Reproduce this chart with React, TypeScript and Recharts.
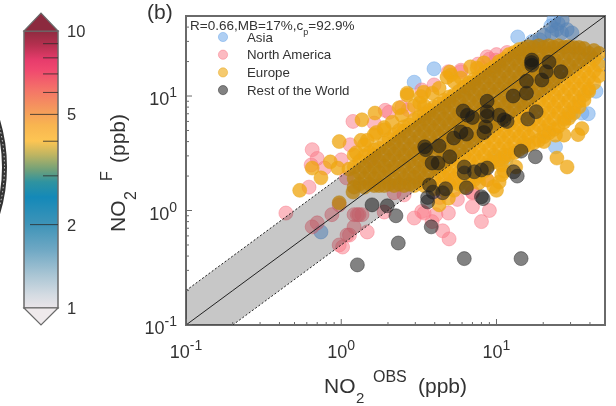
import React from "react";
import { ComposedChart, Area, Line, Scatter, XAxis, YAxis, Legend, ReferenceArea } from "recharts";

const FONT = "'Liberation Sans', Arial, sans-serif";
const TEXT = "#333";
const FRAME = "#6a6a6a";
const PLOT = { left: 186, right: 605, top: 16, bottom: 325 };

const majorTicks = [0.1, 1, 10];
const minorTicks = [0.2, 0.3, 0.4, 0.5, 0.6, 0.7, 0.8, 0.9, 2, 3, 4, 5, 6, 7, 8, 9, 20, 30, 40];
const allTicks = [...majorTicks, ...minorTicks].sort((a, b) => a - b);
const exponentLabel: Record<number, string> = { 0.1: "-1", 1: "0", 10: "1" };

const cbLabels = [1, 2, 5, 10];
const cbTicks = [1, 2, 3, 4, 5, 6, 7, 8, 9, 10];
const cbStops: [number, string][] = [
  [0, "#8e2c40"], [0.05, "#b5304f"], [0.105, "#e73c6c"], [0.14, "#f0486f"], [0.213, "#f47468"],
  [0.285, "#f59a5c"], [0.34, "#f8b550"], [0.397, "#fdc553"], [0.448, "#bdb462"], [0.502, "#6fa07a"],
  [0.545, "#2f93a0"], [0.6, "#1489b8"], [0.7, "#3f94b8"], [0.79, "#6fa8c4"], [0.88, "#a9c5d4"],
  [0.953, "#d4dbe2"], [1, "#eae5e9"],
];

// factor-of-two band and 1:1 line
const bandX = [0.1, 0.2, 25, 50];
const bandLo = [0.1, 0.1, 12.5, 25];
const bandHi = [0.2, 0.4, 50, 50];
const lineHi = [0.2, 0.4, 50, null];
const lineLo = [null, 0.1, 12.5, 25];
const lineMid = [0.1, 0.2, 25, 50];
const bandData = bandX.map((x, i) => ({
  x, range: [bandLo[i], bandHi[i]], hi: lineHi[i], lo: lineLo[i], mid: lineMid[i],
}));

const asia: [number, number][] = [
  [0.74, 0.65], [3.96, 17.3], [2.95, 13.2], [13.7, 32.8], [23.4, 46], [25, 43], [22.4, 41], [26.5, 46],
  [20.2, 34], [22.7, 35.6], [26.3, 35.6], [30.6, 35.6], [28.5, 38], [24.4, 38], [41, 21.6], [45.7, 19.8],
  [43.7, 11], [35.5, 7.1], [39, 7], [30, 6.8], [24, 3.6], [9.9, 2.95], [11.5, 2.7], [17, 30], [19, 31],
];

const northAmerica: [number, number][] = [
  [4.9, 0.95], [2.95, 0.86], [3.42, 0.95], [3.3, 0.98], [4.07, 0.92], [3.85, 0.8], [4.5, 0.665], [4.95, 0.565],
  [7, 1.08], [9, 1.0], [8, 0.8], [7, 1.43], [1.47, 0.65], [1.3, 0.92], [1.21, 0.92], [1.21, 0.72],
  [1.09, 0.61], [1.02, 0.48], [0.97, 0.5], [0.44, 0.95], [0.65, 0.72], [0.7, 0.78], [0.87, 0.92], [0.97, 1.12],
  [1.27, 0.92], [1.36, 0.92], [1.13, 0.61], [0.62, 1.6], [1.19, 6], [1.92, 7.5], [1.63, 5.8], [1.14, 3.75],
  [0.65, 3.4], [0.7, 2.85], [0.64, 2.5], [0.78, 2.35], [1, 2.77], [1.08, 1.93], [1.58, 2.85], [2.19, 1.43],
  [2.54, 1.37], [1.89, 0.97], [5.9, 16.3], [4.9, 16.3], [3.96, 12.5], [3.3, 11.3], [8.7, 22], [9.9, 20.6],
  [8, 17.6], [11.7, 24], [9, 21], [2.7, 7.6], [2.46, 8], [2.03, 7.2], [5.9, 16.8], [5.1, 1.85], [7, 1.45],
  [8.7, 1.85], [10, 23], [7.6, 19], [4.3, 1.3], [5.6, 1.25],
];

const europeOutliers: [number, number][] = [
  [0.54, 1.5], [0.97, 1.17], [0.97, 4.0], [0.65, 2.35], [0.74, 1.93], [0.85, 2.66], [0.95, 2.35], [1.19, 1.45],
  [1.36, 6.2], [1.65, 7.1], [1.34, 4.1], [1.47, 4.1], [1.25, 3.2], [2.36, 7.9], [2.66, 10.2], [2.13, 5.9],
  [1.89, 5.3], [1.68, 4.8], [6.8, 18], [5.1, 15.3], [3.4, 10.8], [3.2, 8.7], [2.66, 10.6], [5, 16.2],
  [24.5, 2.87], [28.5, 2.4], [35.5, 5.2], [33.5, 4.6], [27.2, 4.55], [24, 4.55], [20.2, 4], [10.8, 2.5],
  [13.3, 2.4], [10.8, 2.05], [10, 1.5], [7.7, 1.75], [8.7, 1.85], [10.4, 1.77], [4.9, 1.28], [4.27, 1.12],
  [11.2, 2.2], [9.6, 1.62],
  [2.46, 6.8], [3.27, 9.9], [3.85, 10.6], [4.8, 14.6], [2.95, 8.2], [3.42, 8.2], [4.27, 11.7], [5.33, 13.4],
  [5.9, 14.4], [1.89, 5.07], [1.63, 4.6], [1.41, 3.75], [1.21, 3.05], [7.5, 17.6], [8.3, 19.5], [1.12, 2.3],
];

const europeColumns: [number, number[]][] = [
  [1.21, [1.6, 1.9, 2.4]],
  [1.31, [1.7, 2.15, 2.7]],
  [1.41, [1.6, 1.9, 2.4, 3.0]],
  [1.52, [1.7, 2.15, 2.7, 3.2]],
  [1.63, [1.65, 1.9, 2.4, 3.05, 3.4]],
  [1.75, [1.65, 2.15, 2.7, 3.5]],
  [1.89, [1.65, 1.95, 2.45, 3.05, 3.9]],
  [2.03, [1.7, 2.2, 2.75, 3.45, 4.2]],
  [2.19, [1.65, 1.9, 2.4, 3.1, 3.9, 4.6]],
  [2.36, [1.7, 2.15, 2.7, 3.4, 4.4, 5]],
  [2.54, [1.65, 1.9, 2.45, 3.05, 3.85, 4.95, 5.4]],
  [2.74, [1.7, 2.1, 2.7, 3.45, 4.35, 5.6]],
  [2.95, [1.65, 1.95, 2.4, 3.1, 3.9, 5, 6.2]],
  [3.18, [1.75, 2.15, 2.75, 3.4, 4.4, 5.6, 6.6]],
  [3.42, [1.65, 1.9, 2.45, 3, 3.9, 4.95, 6.3, 7]],
  [3.68, [1.7, 2.2, 2.7, 3.5, 4.4, 5.55, 7.1, 7.5]],
  [3.96, [1.55, 1.9, 2.4, 3.05, 3.85, 5, 6.3, 8]],
  [4.27, [1.7, 2.15, 2.65, 3.45, 4.45, 5.6, 7, 8.5]],
  [4.6, [1.5, 1.95, 2.4, 3.1, 3.9, 4.9, 6.3, 8, 9.2]],
  [4.95, [1.7, 2.1, 2.7, 3.45, 4.4, 5.65, 7.1, 9, 9.8]],
  [5.33, [1.5, 1.9, 2.45, 3.05, 3.9, 4.95, 6.25, 8.1, 10.2]],
  [5.74, [1.7, 2.15, 2.7, 3.4, 4.4, 5.6, 7.05, 9, 11]],
  [6.18, [1.6, 1.9, 2.4, 3.05, 3.95, 5, 6.3, 8, 10.2, 12]],
  [6.65, [1.7, 2.15, 2.75, 3.45, 4.35, 5.6, 7.1, 9.1, 11.5, 13]],
  [7.17, [1.85, 2.4, 3.05, 3.9, 4.95, 6.3, 8, 10.2, 13, 14]],
  [7.7, [2.0, 2.15, 2.7, 3.45, 4.4, 5.6, 7.1, 9, 11.5, 14.6]],
  [8.3, [2.2, 2.4, 3.05, 3.9, 4.95, 6.35, 8, 10.2, 13, 16]],
  [8.95, [2.5, 2.7, 3.45, 4.4, 5.6, 7.1, 9, 11.5, 14.6, 17]],
  [9.64, [2.65, 3.05, 3.9, 5, 6.3, 8, 10.3, 13, 16.5, 18]],
  [10.4, [2.75, 3.45, 4.4, 5.6, 7.1, 9, 11.5, 14.6, 18.6, 20]],
  [11.2, [2.9, 3.05, 3.9, 4.95, 6.3, 8, 10.2, 13, 16.5, 21]],
  [12, [3.05, 3.45, 4.4, 5.6, 7.1, 9, 11.5, 14.6, 18.6, 23]],
  [13, [3.2, 3.9, 4.95, 6.3, 8, 10.2, 13, 16.5, 21, 24]],
  [14, [3.4, 4.4, 5.6, 7.1, 9, 11.5, 14.6, 18.6, 23.6, 25.5]],
  [15, [3.6, 3.9, 4.95, 6.3, 8, 10.2, 13, 16.5, 21, 26]],
  [16.1, [3.75, 4.4, 5.6, 7.1, 9, 11.5, 14.6, 18.6, 23.6, 27]],
  [17.4, [3.9, 4.95, 6.3, 8, 10.2, 13, 16.5, 21, 26.7]],
  [18.7, [4.1, 5.6, 7.1, 9, 11.5, 14.6, 18.6, 23.6, 27.5]],
  [20.2, [4.4, 4.95, 6.3, 8, 10.2, 13, 16.5, 21, 26.7]],
  [21.7, [4.75, 5.6, 7.1, 9, 11.5, 14.6, 18.6, 23.6, 27.5]],
  [23.4, [5.1, 6.3, 8, 10.2, 13, 16.5, 21, 26.7]],
  [25, [5.4, 7.1, 9, 11.5, 14.6, 18.6, 23.6, 27.5]],
  [27.2, [5.9, 6.3, 8, 10.2, 13, 16.5, 21, 26.7]],
  [29.2, [6.4, 7.1, 9, 11.5, 14.6, 18.6, 23.6, 27]],
  [31.5, [7.1, 8, 10.2, 13, 16.5, 21, 26.5]],
  [34, [8, 9, 11.5, 14.6, 18.6, 23.6, 26.5]],
  [36.6, [9.2, 10.2, 13, 16.5, 21, 26]],
  [39.3, [11, 11.5, 14.6, 18.6, 23.6]],
  [42.4, [13, 16.5, 21, 25]],
  [45.7, [15, 18.6, 23.6]],
];

const restOfWorld: [number, number][] = [
  [16.9, 20.6], [16.9, 18.6], [16.8, 19.6], [21.8, 19.8], [20.9, 16.3], [26, 16.3], [19.6, 13.8], [15.6, 13.5],
  [15.6, 10.6], [12.8, 10], [8.7, 9], [18, 7.3], [15.9, 6.3], [6.1, 7.4], [6.5, 6.8], [7, 6.5], [8.7, 7.3],
  [8.7, 6.7], [10.4, 6.8], [11.2, 6.2], [11.7, 6], [8.5, 5.4], [8.3, 4.8], [5.9, 4.85], [6.4, 4.65], [5.3, 4.3],
  [4.27, 3.67], [3.45, 3.6], [3.5, 3.4], [5, 2.95], [3.85, 2.6], [4.2, 2.6], [6.2, 2.4], [6.2, 2.13], [7.2, 2.18],
  [8, 2.26], [8.7, 2.35], [14.4, 3.3], [17.8, 2.95], [12.9, 2.18], [13.6, 2.0], [6.4, 1.58], [4.7, 1.55],
  [3.7, 1.67], [3.9, 1.45], [4.5, 1.43], [8, 1.32], [3.6, 1.3], [1.58, 1.12], [1.98, 1.1], [2.25, 0.9], [3.6, 1.19],
  [8.2, 1.27], [3.8, 0.72], [2.33, 0.52], [1.27, 0.335], [6.2, 0.38], [14.4, 0.38],
];

const toPoints = (rows: [number, number][]) => rows.map(([x, y]) => ({ x, y }));
const europe = [
  ...toPoints(europeOutliers),
  ...europeColumns.flatMap(([x, ys]) => ys.map((y) => ({ x, y }))),
];

const regions = [
  { name: "Asia", data: toPoints(asia), fill: "#6ea8ea", alpha: 0.55, edge: "#6ea8ea" },
  { name: "North America", data: toPoints(northAmerica), fill: "#f97a88", alpha: 0.52, edge: "#f97a88" },
  { name: "Europe", data: europe, fill: "#efa60f", alpha: 0.76, edge: "#e8a820" },
  { name: "Rest of the World", data: toPoints(restOfWorld), fill: "#1c1c1c", alpha: 0.55, edge: "#2a2a2a" },
];

const Dot = (fill: string, alpha: number, edge: string) => (p: any) => (
  <circle cx={p.cx} cy={p.cy} r={7} fill={fill} fillOpacity={alpha} stroke={edge} strokeOpacity={0.6} strokeWidth={0.8} />
);

const isMajor = (v: number) => majorTicks.includes(v);

const BottomTick = (p: any) => {
  const v = p.payload.value;
  const len = isMajor(v) ? 6 : 3;
  return (
    <g>
      <line x1={p.x} x2={p.x} y1={PLOT.bottom} y2={PLOT.bottom - len} stroke={FRAME} strokeWidth={1} />
      {isMajor(v) && (
        <text x={p.x} y={358} textAnchor="middle" fontSize={18} fontFamily={FONT} fill={TEXT}>
          10<tspan dy={-8} fontSize={14}>{exponentLabel[v]}</tspan>
        </text>
      )}
    </g>
  );
};
const TopTick = (p: any) => {
  const v = p.payload.value;
  return <line x1={p.x} x2={p.x} y1={PLOT.top} y2={PLOT.top + (isMajor(v) ? 6 : 3)} stroke={FRAME} strokeWidth={1} />;
};
const LeftTick = (p: any) => {
  const v = p.payload.value;
  return (
    <g>
      <line x1={PLOT.left} x2={PLOT.left + (isMajor(v) ? 6 : 3)} y1={p.y} y2={p.y} stroke={FRAME} strokeWidth={1} />
      {isMajor(v) && (
        <text x={177} y={p.y + 9} textAnchor="end" fontSize={18} fontFamily={FONT} fill={TEXT}>
          10<tspan dy={-8} fontSize={14}>{exponentLabel[v]}</tspan>
        </text>
      )}
    </g>
  );
};
const RightTick = (p: any) => {
  const v = p.payload.value;
  return <line x1={PLOT.right} x2={PLOT.right - (isMajor(v) ? 6 : 3)} y1={p.y} y2={p.y} stroke={FRAME} strokeWidth={1} />;
};

const CbTick = (p: any) => {
  const v = p.payload.value;
  const major = cbLabels.includes(v);
  const showLine = v !== 1 && v !== 10;
  return (
    <g>
      {showLine && <line x1={major ? 30 : 43} x2={58} y1={p.y} y2={p.y} stroke="#2a2a2a" strokeOpacity={0.8} strokeWidth={1} />}
      {major && (
        <text x={67} y={p.y + 6} fontSize={16.5} fontFamily={FONT} fill={TEXT}>{v}</text>
      )}
    </g>
  );
};

const LegendBox = () => (
  <svg width={200} height={80} style={{ display: "block" }}>
    {regions.map((r, i) => (
      <g key={r.name}>
        <circle cx={6} cy={9 + i * 17.7} r={4.6} fill={r.fill} fillOpacity={Math.min(r.alpha, 0.6)} stroke={r.edge} strokeOpacity={0.5} />
        <text x={30} y={13.5 + i * 17.7} fontSize={13.3} fontFamily={FONT} fill={TEXT}>{r.name}</text>
      </g>
    ))}
  </svg>
);

export default function App() {
  return (
    <div style={{ position: "absolute", left: 0, top: 0, width: 616, height: 406, background: "#fff", overflow: "hidden", filter: "blur(0.3px)" }}>
      {/* colour bar */}
      <div style={{ position: "absolute", left: 0, top: 0 }}>
        <ComposedChart width={120} height={340} data={cbTicks.map((v) => ({ v }))} margin={{ top: 31, bottom: 32, left: 24, right: 2 }}>
          <defs>
            <linearGradient id="cbGrad" x1="0" y1="0" x2="0" y2="1">
              {cbStops.map(([o, c]) => <stop key={o} offset={o} stopColor={c} />)}
            </linearGradient>
          </defs>
          <XAxis type="number" dataKey="v" domain={[0, 1]} hide allowDataOverflow />
          <YAxis type="number" orientation="right" scale="log" domain={[1, 10]} allowDataOverflow ticks={cbTicks} interval={0} width={60} axisLine={false} tickLine={false} tick={CbTick} />
          <ReferenceArea y1={1} y2={10} fill="url(#cbGrad)" fillOpacity={1} stroke={FRAME} strokeWidth={1.5} ifOverflow="visible" />
        </ComposedChart>
      </div>

      {/* scatter panel */}
      <div style={{ position: "absolute", left: 0, top: 0 }}>
        <ComposedChart width={616} height={406} data={bandData} margin={{ top: PLOT.top, left: 126, right: 11, bottom: 41 }}>
          <XAxis type="number" dataKey="x" scale="log" domain={[0.1, 50]} allowDataOverflow ticks={allTicks} interval={0} height={40} axisLine={false} tickLine={false} tick={BottomTick} />
          <XAxis xAxisId="top" type="number" dataKey="x" orientation="top" scale="log" domain={[0.1, 50]} allowDataOverflow ticks={allTicks} interval={0} height={0} axisLine={false} tickLine={false} tick={TopTick} />
          <YAxis type="number" dataKey="y" scale="log" domain={[0.1, 50]} allowDataOverflow ticks={allTicks} interval={0} width={60} axisLine={false} tickLine={false} tick={LeftTick} />
          <YAxis yAxisId="right" type="number" dataKey="y" orientation="right" scale="log" domain={[0.1, 50]} allowDataOverflow ticks={allTicks} interval={0} width={0} axisLine={false} tickLine={false} tick={RightTick} />
          <ReferenceArea x1={0.1} x2={50} y1={0.1} y2={50} fill="none" stroke={FRAME} strokeWidth={2} ifOverflow="visible" />
          {regions.map((r) => (
            <Scatter key={r.name} name={r.name} data={r.data} dataKey="y" fill={r.fill} isAnimationActive={false} shape={Dot(r.fill, r.alpha, r.edge)} legendType="circle" />
          ))}
          <Area dataKey="range" stroke="none" fill="#000" fillOpacity={0.22} isAnimationActive={false} legendType="none" dot={false} activeDot={false} {...({ zIndex: 700 } as any)} />
          <Line dataKey="mid" stroke="#222" strokeWidth={1} dot={false} activeDot={false} isAnimationActive={false} legendType="none" {...({ zIndex: 700 } as any)} />
          <Line dataKey="hi" stroke="#222" strokeWidth={1} strokeDasharray="2 2" dot={false} activeDot={false} isAnimationActive={false} legendType="none" {...({ zIndex: 700 } as any)} />
          <Line dataKey="lo" stroke="#222" strokeWidth={1} strokeDasharray="2 2" dot={false} activeDot={false} isAnimationActive={false} legendType="none" {...({ zIndex: 700 } as any)} />
          <Legend layout="vertical" align="center" verticalAlign="middle" content={LegendBox} wrapperStyle={{ left: 217, top: 28, width: 200, height: 80 }} />
        </ComposedChart>
      </div>

      {/* annotations */}
      <svg width={616} height={406} style={{ position: "absolute", left: 0, top: 0, pointerEvents: "none" }} fontFamily={FONT} fill={TEXT}>
        <circle cx={-156.5} cy={167} r={161} fill="none" stroke="#333" strokeWidth={5} />
        <circle cx={-156.5} cy={167} r={161} fill="none" stroke="#ddd" strokeWidth={1} strokeDasharray="1.5 2.5" />
        <polygon points="24,31 41,13 58,31" fill="#8c2a3e" stroke={FRAME} strokeWidth={1.2} />
        <polygon points="24,308 41,325 58,308" fill="#efeaec" stroke={FRAME} strokeWidth={1.2} />
        <text x={147} y={19} fontSize={21}>(b)</text>
        <text x={190} y={30} fontSize={13.5}>R=0.66,MB=17%,c<tspan dy={5} fontSize={9}>p</tspan><tspan dy={-5}>=92.9%</tspan></text>

        <text x={324} y={393} fontSize={21}>NO</text>
        <text x={356} y={403} fontSize={15}>2</text>
        <text x={373} y={382} fontSize={16}>OBS</text>
        <text x={418} y={393} fontSize={21}>(ppb)</text>

        <g transform="rotate(-90)">
          <text x={-232} y={125} fontSize={21}>NO</text>
          <text x={-200} y={136} fontSize={16}>2</text>
          <text x={-181} y={112} fontSize={16}>F</text>
          <text x={-163} y={125} fontSize={21}>(ppb)</text>
        </g>
      </svg>
    </div>
  );
}
